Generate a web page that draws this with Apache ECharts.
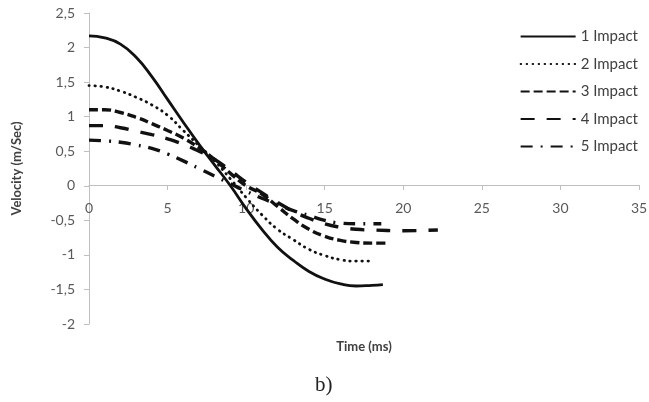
<!DOCTYPE html>
<html>
<head>
<meta charset="utf-8">
<script src="https://cdn.jsdelivr.net/npm/echarts@6/dist/echarts.min.js"></script>
<style>
  html, body { margin: 0; padding: 0; background: #fff; }
  #chart { width: 649px; height: 402px; }
</style>
</head>
<body>
<div id="chart"></div>
<script>
// time (ms) and velocity (m/Sec)
const seriesNames = ['1 Impact', '2 Impact', '3 Impact', '4 Impact', '5 Impact'];

const time1 = [0, 1, 2, 3, 4, 5, 6, 7, 8, 9, 10, 11, 12, 13, 14, 15, 16, 17, 18, 18.7];
const vel1 = [2.17, 2.14, 2.05, 1.86, 1.58, 1.25, 0.92, 0.60, 0.30, 0.0, -0.33, -0.63, -0.89, -1.08, -1.24, -1.35, -1.42, -1.45, -1.44, -1.43];

const time2 = [0, 1, 2, 3, 4, 5, 6, 7, 8, 9, 10, 11, 12, 13, 14, 15, 16, 17, 17.9];
const vel2 = [1.45, 1.43, 1.37, 1.28, 1.17, 1.02, 0.80, 0.58, 0.36, 0.10, -0.17, -0.42, -0.63, -0.78, -0.92, -1.01, -1.07, -1.09, -1.09];

const time3 = [0, 1, 2, 3, 4, 5, 6, 7, 8, 9, 10, 11, 12, 13, 14, 15, 16, 17, 18, 19.1];
const vel3 = [1.10, 1.10, 1.06, 0.99, 0.90, 0.80, 0.69, 0.55, 0.38, 0.18, 0.0, -0.12, -0.30, -0.48, -0.63, -0.73, -0.79, -0.82, -0.83, -0.83];

const time4 = [0, 1, 2, 3, 4, 5, 6, 7, 8, 9, 10, 11, 12, 13, 14, 15, 16, 17, 18, 20, 22.2];
const vel4 = [0.87, 0.87, 0.84, 0.79, 0.74, 0.68, 0.60, 0.50, 0.38, 0.22, 0.05, -0.10, -0.24, -0.37, -0.47, -0.55, -0.60, -0.63, -0.64, -0.65, -0.64];

const time5 = [0, 1, 2, 3, 4, 5, 6, 7, 8, 9, 10, 11, 12, 13, 14, 15, 16, 17, 18, 18.6];
const vel5 = [0.66, 0.65, 0.63, 0.59, 0.54, 0.46, 0.36, 0.25, 0.14, 0.03, -0.08, -0.18, -0.27, -0.36, -0.43, -0.50, -0.54, -0.55, -0.55, -0.55];

const times = [time1, time2, time3, time4, time5];
const vels = [vel1, vel2, vel3, vel4, vel5];

// line look per impact: solid, dotted, short dash, long dash, dash-dot
const dashes = ['solid', [0.5, 5.5], [9, 4], [14, 12], [12, 8, 2, 8]];
const widths = [2.8, 2.8, 3.4, 3.4, 3.4];

const commaFmt = (v) => String(v).replace('.', ',');

let chart = echarts.init(document.getElementById('chart'));
chart.setOption({
  animation: false,
  textStyle: { fontFamily: 'Lato' },
  grid: { left: 89, right: 10, top: 13, bottom: 78, containLabel: false, outerBoundsMode: 'none' },
  legend: {
    orient: 'vertical',
    right: 6,
    top: 24,
    itemWidth: 55,
    itemHeight: 14,
    itemGap: 12.5,
    itemStyle: { opacity: 0 },
    textStyle: { fontSize: 15, color: '#404040', fontFamily: 'Lato' },
    data: seriesNames
  },
  xAxis: {
    type: 'value',
    min: 0,
    max: 35,
    interval: 5,
    // axis line sits on velocity 0 (0 is 4 of 9 steps up from the bottom)
    offset: -139,
    name: 'Time (ms)',
    nameLocation: 'middle',
    nameGap: 155,
    nameTextStyle: { fontSize: 13, fontWeight: 'bold', color: '#404040' },
    axisLine: { onZero: false, lineStyle: { color: '#c0c0c0', width: 1 } },
    axisTick: { show: true, length: 5, lineStyle: { color: '#c0c0c0' } },
    axisLabel: { margin: 16, fontSize: 14, color: '#595959' },
    splitLine: { show: false }
  },
  yAxis: {
    type: 'value',
    min: -2,
    max: 2.5,
    interval: 0.5,
    name: 'Velocity (m/Sec)',
    nameLocation: 'middle',
    nameGap: 66,
    nameTextStyle: { fontSize: 13, fontWeight: 'bold', color: '#404040' },
    axisLine: { show: true, onZero: false, lineStyle: { color: '#c0c0c0', width: 1 } },
    axisTick: { show: true, length: 5, lineStyle: { color: '#c0c0c0' } },
    axisLabel: { margin: 14, fontSize: 14, color: '#595959', formatter: commaFmt },
    splitLine: { show: false }
  },
  graphic: [{
    type: 'text',
    left: 315,
    top: 375,
    style: { text: 'b)', font: '21px "Liberation Serif"', fill: '#222' }
  }],
  series: seriesNames.map((name, i) => ({
    name: name,
    type: 'line',
    smooth: true,
    symbol: 'none',
    showSymbol: false,
    data: times[i].map((t, j) => [t, vels[i][j]]),
    lineStyle: { color: '#111', width: widths[i], type: dashes[i], cap: i === 1 ? 'round' : 'butt' },
    itemStyle: { color: '#111' }
  }))
});
</script>
</body>
</html>
